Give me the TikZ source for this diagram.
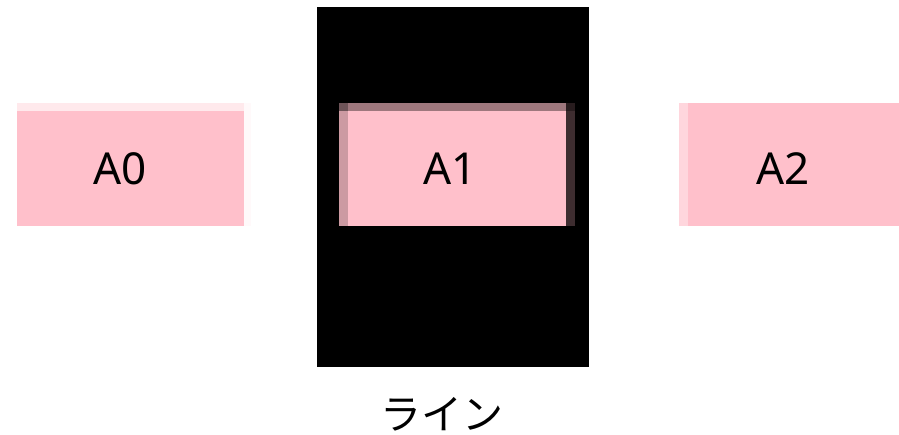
\documentclass[tikz,border=0pt]{standalone}
\usepackage{fontspec}
\setmainfont{Noto Sans CJK JP}
\newfontfamily\latinfont{Noto Sans}
\definecolor{boxpink}{HTML}{FFC0CB}
\definecolor{azerotop}{HTML}{FFE9EC}
\definecolor{azerofaint}{HTML}{FFF9FA}
\definecolor{aonetl}{HTML}{6E5458}
\definecolor{aonetop}{HTML}{9E777D}
\definecolor{aonetr}{HTML}{281C1E}
\definecolor{aoneleft}{HTML}{CC9AA2}
\definecolor{aoneright}{HTML}{3E2D30}
\definecolor{atwoleft}{HTML}{FFD6DD}
\tikzset{
  pinkbox/.style={fill=boxpink, draw=none, inner sep=0pt, outer sep=0pt, anchor=north west},
  lbl/.style={font=\latinfont\fontsize{44}{50}\selectfont, inner sep=0pt, text=black},
  captext/.style={font=\fontsize{41}{46}\selectfont, inner sep=0pt, text=black}
}
\begin{document}
\begin{tikzpicture}[x=1pt,y=-1pt]
\useasboundingbox (0,0) rectangle (899,435);
% black line area
\node[fill=black, inner sep=0pt, outer sep=0pt, anchor=north west, minimum width=272pt, minimum height=360pt] (line) at (317,7) {};
% A0
\fill[azerotop] (17,103) rectangle (244,111);
\fill[azerofaint] (244,103) rectangle (251,226);
\node[pinkbox, minimum width=227pt, minimum height=115pt] (A0) at (17,111) {};
\node[lbl] (t0) at (120.5,169) {A0};
% A1
\fill[aonetl] (339,103) rectangle (348,111);
\fill[aonetop] (348,103) rectangle (566,111);
\fill[aonetr] (566,103) rectangle (575,111);
\fill[aoneleft] (339,111) rectangle (348,226);
\fill[aoneright] (566,111) rectangle (575,226);
\node[pinkbox, minimum width=218pt, minimum height=115pt] (A1) at (348,111) {};
\node[lbl] (t1) at (450,169) {A1};
% A2
\fill[atwoleft] (679,103) rectangle (688,226);
\node[pinkbox, minimum width=211pt, minimum height=123pt] (A2) at (688,103) {};
\node[lbl] (t2) at (783,169) {A2};
% caption
\node[captext] (caption) at (442,414.5) {ライン};
\end{tikzpicture}
\end{document}
